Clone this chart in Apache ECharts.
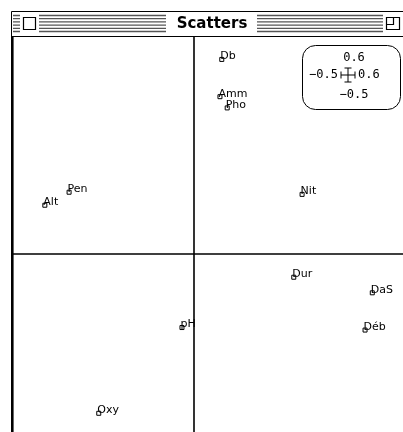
<!DOCTYPE html>
<html>
<head>
<meta charset="utf-8">
<script src="https://cdn.jsdelivr.net/npm/echarts@6/dist/echarts.min.js"></script>
<style>
  html, body { margin: 0; padding: 0; background: #fff; overflow: hidden; }
  #chart { width: 425px; height: 445px; }
</style>
</head>
<body>
<div id="chart"></div>
<script>
// Variable names and their coordinates on the first two axes
var names = ['Db', 'Amm', 'Pho', 'Alt', 'Pen', 'Nit', 'Dur', 'DaS', 'Déb', 'pH', 'Oxy'];
var xs = [0.077, 0.072, 0.092, -0.412, -0.345, 0.299, 0.276, 0.493, 0.473, -0.033, -0.263];
var ys = [0.538, 0.435, 0.404, 0.135, 0.171, 0.165, -0.064, -0.107, -0.210, -0.203, -0.440];

// Window limits shown in the scale box
var xRange = [-0.5, 0.6];
var yRange = [-0.5, 0.6];
var windowTitle = 'Scatters';

var FONT = '"DejaVu Sans", Verdana, sans-serif';
var MONO = '"DejaVu Sans Mono", "Liberation Mono", monospace';
var points = names.map(function (n, i) { return { name: n, value: [xs[i], ys[i]] }; });

// Title bar: striped band with close box, title and zoom box
var graphics = [];
graphics.push({ type: 'rect', shape: { x: 11.5, y: 11.5, width: 410, height: 25 },
  style: { fill: '#fff', stroke: '#000', lineWidth: 1 }, z: 10 });
for (var k = 0; k < 6; k++) {
  var yy = 15.5 + k * 3.2;
  graphics.push({ type: 'line', shape: { x1: 13, y1: yy, x2: 410, y2: yy },
    style: { stroke: '#555', lineWidth: 1.3 }, z: 11 });
}
graphics.push({ type: 'rect', shape: { x: 20, y: 13, width: 19, height: 22 }, style: { fill: '#fff' }, z: 12 });
graphics.push({ type: 'rect', shape: { x: 23.5, y: 17.5, width: 12, height: 12 },
  style: { fill: '#fff', stroke: '#000', lineWidth: 1.2 }, z: 13 });
graphics.push({ type: 'rect', shape: { x: 166, y: 13, width: 91, height: 22 }, style: { fill: '#fff' }, z: 12 });
graphics.push({ type: 'text', x: 212, y: 24, z: 13,
  style: { text: windowTitle, font: 'bold 15px ' + FONT, fill: '#000', align: 'center', verticalAlign: 'middle' } });
graphics.push({ type: 'rect', shape: { x: 383, y: 13, width: 22, height: 22 }, style: { fill: '#fff' }, z: 12 });
graphics.push({ type: 'rect', shape: { x: 386.5, y: 17.5, width: 13, height: 12 },
  style: { fill: '#fff', stroke: '#000', lineWidth: 1.2 }, z: 13 });
graphics.push({ type: 'polyline', shape: { points: [[386.5, 24.5], [393.5, 24.5], [393.5, 17.5]] },
  style: { fill: null, stroke: '#000', lineWidth: 1.2 }, z: 13 });

// Thick left edge of the window content
graphics.push({ type: 'rect', shape: { x: 11, y: 36, width: 2.6, height: 410 },
  style: { fill: '#000' }, z: 10 });

// Scale box with its cross and limits
graphics.push({ type: 'rect', shape: { x: 302.5, y: 45.5, width: 98, height: 64, r: 13 },
  style: { fill: '#fff', stroke: '#000', lineWidth: 1 }, z: 10 });
var cx = 348, cy = 75, h = 7, e = 3.5;
var cross = [
  [cx - h, cy, cx + h, cy], [cx, cy - h, cx, cy + h],
  [cx - h, cy - e, cx - h, cy + e], [cx + h, cy - e, cx + h, cy + e],
  [cx - e, cy - h, cx + e, cy - h], [cx - e, cy + h, cx + e, cy + h]
];
cross.forEach(function (c) {
  graphics.push({ type: 'line', shape: { x1: c[0], y1: c[1], x2: c[2], y2: c[3] },
    style: { stroke: '#000', lineWidth: 1 }, z: 11 });
});
var sf = '12px ' + MONO;
function fmt(v) { return (v < 0 ? '\u2212' : '') + String(Math.abs(v)); }
graphics.push({ type: 'text', x: 354, y: 58, z: 11,
  style: { text: fmt(yRange[1]), font: sf, fill: '#000', align: 'center', verticalAlign: 'middle' } });
graphics.push({ type: 'text', x: 338, y: 75, z: 11,
  style: { text: fmt(xRange[0]), font: sf, fill: '#000', align: 'right', verticalAlign: 'middle' } });
graphics.push({ type: 'text', x: 358, y: 75, z: 11,
  style: { text: fmt(xRange[1]), font: sf, fill: '#000', align: 'left', verticalAlign: 'middle' } });
graphics.push({ type: 'text', x: 354, y: 95, z: 11,
  style: { text: fmt(yRange[0]), font: sf, fill: '#000', align: 'center', verticalAlign: 'middle' } });

var chart = echarts.init(document.getElementById('chart'), null, { renderer: 'canvas' });
chart.setOption({
  animation: false,
  backgroundColor: '#fff',
  grid: { left: 13, top: 37, width: 398, height: 398, containLabel: false },
  xAxis: {
    type: 'value', min: xRange[0], max: xRange[1],
    axisLine: { show: true, onZero: true, lineStyle: { color: '#000', width: 1.6 } },
    axisTick: { show: false }, axisLabel: { show: false }, splitLine: { show: false }
  },
  yAxis: {
    type: 'value', min: yRange[0], max: yRange[1],
    axisLine: { show: true, onZero: true, lineStyle: { color: '#000', width: 1.6 } },
    axisTick: { show: false }, axisLabel: { show: false }, splitLine: { show: false }
  },
  graphic: graphics,
  series: [{
    type: 'scatter',
    data: points,
    symbol: 'rect',
    symbolSize: 4,
    itemStyle: { color: '#fff', borderColor: '#000', borderWidth: 1, opacity: 1 },
    label: {
      show: true,
      formatter: function (p) { return p.name; },
      position: [1, 5],
      align: 'left',
      verticalAlign: 'bottom',
      color: '#000',
      fontFamily: FONT,
      fontSize: 11
    },
    z: 5
  }]
});
</script>
</body>
</html>
